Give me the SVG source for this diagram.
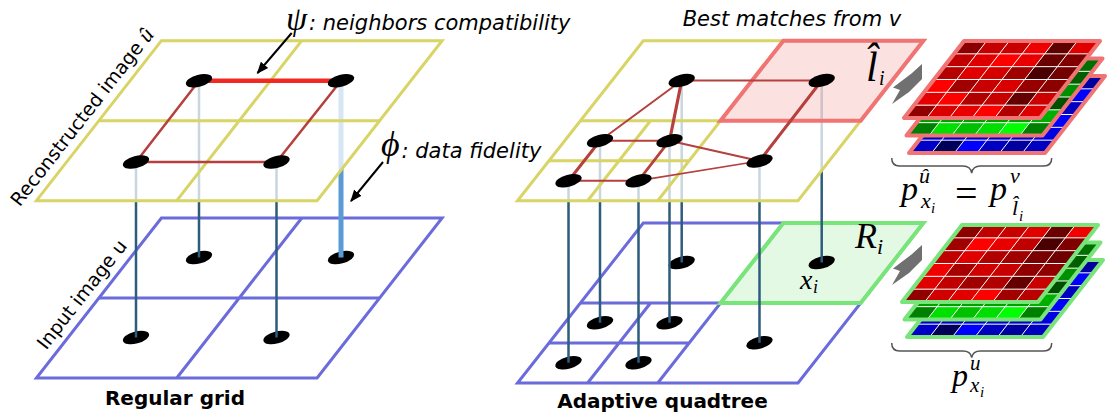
<svg xmlns="http://www.w3.org/2000/svg" width="1107" height="419" viewBox="0 0 1107 419">
<defs>
<style>
.yel{fill:#fff;fill-opacity:.75;stroke:#d8d466;stroke-width:3}
.yl{fill:none;stroke:#d8d466;stroke-width:3}
.blp{fill:#fff;stroke:#6b6bdc;stroke-width:3}
.bl{fill:none;stroke:#6b6bdc;stroke-width:3}
.pink{fill:#ef6b6b;fill-opacity:.2;stroke:#f07474;stroke-width:4}
.grn{fill:#77e077;fill-opacity:.2;stroke:#78e47a;stroke-width:4}
.nd{fill:#000}
.vl{stroke:#2e5c7e;stroke-width:2.5;fill:none}
.ed{stroke:#b5403d;fill:none;stroke-linecap:round}
.lbl{font-family:"DejaVu Sans",sans-serif;font-size:19px;fill:#000}
.it{font-family:"DejaVu Sans",sans-serif;font-style:italic;font-size:21px;fill:#000}
.ttl{font-family:"DejaVu Sans",sans-serif;font-weight:bold;font-size:20px;text-anchor:middle;fill:#000}
.m{font-family:"Liberation Serif","DejaVu Serif",serif;font-style:italic;fill:#000}
.mr{font-family:"Liberation Serif","DejaVu Serif",serif;fill:#000}
.gl{stroke:#fff;stroke-width:1;fill:none;vector-effect:non-scaling-stroke}
.bp{fill:none;stroke:#f07474;stroke-width:4;vector-effect:non-scaling-stroke;stroke-linejoin:round}
.bg{fill:none;stroke:#78e47a;stroke-width:4;vector-effect:non-scaling-stroke;stroke-linejoin:round}
.brace{fill:none;stroke:#555;stroke-width:1.5}
.garr{fill:#707070}
.arr{stroke:#000;stroke-width:2;fill:none;marker-end:url(#ah)}
</style>
<marker id="ah" viewBox="0 0 10 10" refX="9" refY="5" markerWidth="6" markerHeight="6" orient="auto"><path d="M0,1 L10,5 L0,9 z" fill="#000"/></marker>
<ellipse id="el" cx="0" cy="0" rx="13.5" ry="6" transform="rotate(-15)"/>
<polygon id="gar" points="30,0 30,15 17,28 0,40 8,26 1,23.5 19.5,9.5"/>
<path id="gridl" class="gl" d="M1 0V6M2 0V6M3 0V6M4 0V6M5 0V6M0 1H6M0 2H6M0 3H6M0 4H6M0 5H6"/>
<g id="redA">
<rect x="0" y="0" width="1.02" height="1.02" fill="#8a0000"/><rect x="1" y="0" width="1.02" height="1.02" fill="#c40000"/><rect x="2" y="0" width="1.02" height="1.02" fill="#c80000"/><rect x="3" y="0" width="1.02" height="1.02" fill="#ee0000"/><rect x="4" y="0" width="1.02" height="1.02" fill="#600000"/><rect x="5" y="0" width="1" height="1.02" fill="#e00000"/>
<rect x="0" y="1" width="1.02" height="1.02" fill="#c00000"/><rect x="1" y="1" width="1.02" height="1.02" fill="#de0000"/><rect x="2" y="1" width="1.02" height="1.02" fill="#ff0000"/><rect x="3" y="1" width="1.02" height="1.02" fill="#e80000"/><rect x="4" y="1" width="1.02" height="1.02" fill="#6a0000"/><rect x="5" y="1" width="1" height="1.02" fill="#800000"/>
<rect x="0" y="2" width="1.02" height="1.02" fill="#b40000"/><rect x="1" y="2" width="1.02" height="1.02" fill="#e00000"/><rect x="2" y="2" width="1.02" height="1.02" fill="#d40000"/><rect x="3" y="2" width="1.02" height="1.02" fill="#a00000"/><rect x="4" y="2" width="1.02" height="1.02" fill="#4a0000"/><rect x="5" y="2" width="1" height="1.02" fill="#740000"/>
<rect x="0" y="3" width="1.02" height="1.02" fill="#ff0000"/><rect x="1" y="3" width="1.02" height="1.02" fill="#a00000"/><rect x="2" y="3" width="1.02" height="1.02" fill="#c80000"/><rect x="3" y="3" width="1.02" height="1.02" fill="#d80000"/><rect x="4" y="3" width="1.02" height="1.02" fill="#960000"/><rect x="5" y="3" width="1" height="1.02" fill="#8c0000"/>
<rect x="0" y="4" width="1.02" height="1.02" fill="#e40000"/><rect x="1" y="4" width="1.02" height="1.02" fill="#ff0000"/><rect x="2" y="4" width="1.02" height="1.02" fill="#b00000"/><rect x="3" y="4" width="1.02" height="1.02" fill="#c80000"/><rect x="4" y="4" width="1.02" height="1.02" fill="#640000"/><rect x="5" y="4" width="1" height="1.02" fill="#cc0000"/>
<rect x="0" y="5" width="1.02" height="1" fill="#900000"/><rect x="1" y="5" width="1.02" height="1" fill="#d80000"/><rect x="2" y="5" width="1.02" height="1" fill="#e80000"/><rect x="3" y="5" width="1.02" height="1" fill="#ff0000"/><rect x="4" y="5" width="1.02" height="1" fill="#b00000"/><rect x="5" y="5" width="1" height="1" fill="#dd0000"/>
</g>
<g id="redB">
<rect x="0" y="0" width="1.02" height="1.02" fill="#8c0000"/><rect x="1" y="0" width="1.02" height="1.02" fill="#c00000"/><rect x="2" y="0" width="1.02" height="1.02" fill="#c80000"/><rect x="3" y="0" width="1.02" height="1.02" fill="#e00000"/><rect x="4" y="0" width="1.02" height="1.02" fill="#6a0000"/><rect x="5" y="0" width="1" height="1.02" fill="#f00000"/>
<rect x="0" y="1" width="1.02" height="1.02" fill="#a00000"/><rect x="1" y="1" width="1.02" height="1.02" fill="#ff0000"/><rect x="2" y="1" width="1.02" height="1.02" fill="#e80000"/><rect x="3" y="1" width="1.02" height="1.02" fill="#c00000"/><rect x="4" y="1" width="1.02" height="1.02" fill="#4a0000"/><rect x="5" y="1" width="1" height="1.02" fill="#800000"/>
<rect x="0" y="2" width="1.02" height="1.02" fill="#c00000"/><rect x="1" y="2" width="1.02" height="1.02" fill="#e00000"/><rect x="2" y="2" width="1.02" height="1.02" fill="#b00000"/><rect x="3" y="2" width="1.02" height="1.02" fill="#a00000"/><rect x="4" y="2" width="1.02" height="1.02" fill="#7a0000"/><rect x="5" y="2" width="1" height="1.02" fill="#700000"/>
<rect x="0" y="3" width="1.02" height="1.02" fill="#f00000"/><rect x="1" y="3" width="1.02" height="1.02" fill="#a80000"/><rect x="2" y="3" width="1.02" height="1.02" fill="#d00000"/><rect x="3" y="3" width="1.02" height="1.02" fill="#c80000"/><rect x="4" y="3" width="1.02" height="1.02" fill="#900000"/><rect x="5" y="3" width="1" height="1.02" fill="#900000"/>
<rect x="0" y="4" width="1.02" height="1.02" fill="#e00000"/><rect x="1" y="4" width="1.02" height="1.02" fill="#c00000"/><rect x="2" y="4" width="1.02" height="1.02" fill="#a00000"/><rect x="3" y="4" width="1.02" height="1.02" fill="#b00000"/><rect x="4" y="4" width="1.02" height="1.02" fill="#640000"/><rect x="5" y="4" width="1" height="1.02" fill="#c80000"/>
<rect x="0" y="5" width="1.02" height="1" fill="#900000"/><rect x="1" y="5" width="1.02" height="1" fill="#d00000"/><rect x="2" y="5" width="1.02" height="1" fill="#e00000"/><rect x="3" y="5" width="1.02" height="1" fill="#ff0000"/><rect x="4" y="5" width="1.02" height="1" fill="#a00000"/><rect x="5" y="5" width="1" height="1" fill="#b80000"/>
</g>
<g id="greenL">
<rect x="0" y="0" width="6" height="6" fill="#00a000"/>
<rect x="5" y="0" width="1" height="1.02" fill="#007000"/><rect x="5" y="1" width="1" height="1.02" fill="#006000"/><rect x="5" y="2" width="1" height="1.02" fill="#009000"/><rect x="5" y="3" width="1" height="1.02" fill="#005000"/><rect x="5" y="4" width="1" height="1.02" fill="#00b000"/>
<rect x="0" y="5" width="1.02" height="1" fill="#008000"/><rect x="1" y="5" width="1.02" height="1" fill="#00e000"/><rect x="2" y="5" width="1.02" height="1" fill="#00c000"/><rect x="3" y="5" width="1.02" height="1" fill="#00dd00"/><rect x="4" y="5" width="1.02" height="1" fill="#00ff00"/><rect x="5" y="5" width="1" height="1" fill="#008000"/>
</g>
<g id="blueL">
<rect x="0" y="0" width="6" height="6" fill="#0000c0"/>
<rect x="5" y="0" width="1" height="1.02" fill="#0000a0"/><rect x="5" y="1" width="1" height="1.02" fill="#0000ff"/><rect x="5" y="2" width="1" height="1.02" fill="#0000c0"/><rect x="5" y="3" width="1" height="1.02" fill="#0000ff"/><rect x="5" y="4" width="1" height="1.02" fill="#0000e0"/>
<rect x="0" y="5" width="1.02" height="1" fill="#0000c8"/><rect x="1" y="5" width="1.02" height="1" fill="#000058"/><rect x="2" y="5" width="1.02" height="1" fill="#0000ff"/><rect x="3" y="5" width="1.02" height="1" fill="#0000c0"/><rect x="4" y="5" width="1.02" height="1" fill="#0000a0"/><rect x="5" y="5" width="1" height="1" fill="#0000c0"/>
</g>
</defs>

<!-- LEFT: input plane -->
<g id="left-input-plane">
<polygon class="blp" points="161.4,218 442.1,218 317.1,378 36.4,378"/>
<path class="bl" d="M98.9 298H379.6M301.75 218L176.75 378"/>
</g>
<g id="left-input-nodes">
<use href="#el" class="nd" x="199" y="257.5"/>
<use href="#el" class="nd" x="341" y="257.5"/>
<use href="#el" class="nd" x="136" y="337.5"/>
<use href="#el" class="nd" x="276.5" y="337.5"/>
</g>

<!-- RIGHT: input plane -->
<g id="right-input-plane">
<polygon class="blp" points="643.3,223 923.4,223 798,383 517.5,383"/>
<path class="bl" d="M580.4 303H720.5M783.35 223L657.75 383M549 343H689.2M650.5 303L587.6 383"/>
<polygon id="region-Ri" class="grn" points="783.35,223 923.4,223 860.7,303 720.5,303"/>
</g>
<g id="right-input-nodes">
<use href="#el" class="nd" x="681.7" y="262.5"/>
<use href="#el" class="nd" x="821.7" y="262.5"/>
<use href="#el" class="nd" x="600" y="322.7"/>
<use href="#el" class="nd" x="669.5" y="322.7"/>
<use href="#el" class="nd" x="568.5" y="362.7"/>
<use href="#el" class="nd" x="638.5" y="362.7"/>
<use href="#el" class="nd" x="759.5" y="342.7"/>
</g>

<!-- vertical connectors (data fidelity) -->
<g id="connectors-vertical">
<path class="vl" d="M136 162V337.5M199 80.7V257.5M276.5 162V337.5"/>
<path d="M341 80.7V257.5" stroke="#5b9bd5" stroke-width="5" fill="none"/>
<path class="vl" d="M681.7 80.5V262.5M821.7 80.5V262.5M600 140.7V322.7M669.5 140.7V322.7M568.5 180.7V362.7M638.5 180.7V362.7M759.5 161V342.7"/>
</g>

<!-- LEFT: reconstructed plane -->
<g id="left-recon-plane">
<polygon class="yel" points="161.4,40.7 442.1,40.7 317.1,200.7 36.4,200.7"/>
<path class="yl" d="M98.9 120.7H379.6M301.75 40.7L176.75 200.7"/>
</g>

<!-- RIGHT: reconstructed plane -->
<g id="right-recon-plane">
<polygon class="yel" points="643.3,40.7 923.4,40.7 798,200.7 517.5,200.7"/>
<path class="yl" d="M580.4 120.7H720.5M783.35 40.7L657.75 200.7M549 160.7H689.2M650.5 120.7L587.6 200.7"/>
<polygon id="region-li" class="pink" points="783.35,40.7 923.4,40.7 860.7,120.7 720.5,120.7"/>
</g>

<!-- neighbor connectors -->
<g id="connectors-edges">
<path d="M199 80.7H341" stroke="#ee2a22" stroke-width="4.5" fill="none"/>
<path class="ed" stroke-width="2.5" d="M199 80.7L136 162L276.5 162L341 80.7"/>
<path class="ed" stroke-width="1.8" d="M681.7 80.5H821.7"/>
<path class="ed" stroke-width="2" d="M681.7 80.5L600 140.7"/>
<path class="ed" stroke-width="3.2" d="M681.7 80.5L669.5 140.7"/>
<path class="ed" stroke-width="2" d="M600 140.7H669.5"/>
<path class="ed" stroke-width="3" d="M600 140.7L568.5 180.7"/>
<path class="ed" stroke-width="2.7" d="M669.5 140.7L638.5 180.7"/>
<path class="ed" stroke-width="2" d="M568.5 180.7H638.5"/>
<path class="ed" stroke-width="2" d="M669.5 140.7L759.5 161"/>
<path class="ed" stroke-width="1.7" d="M638.5 180.7L759.5 161"/>
<path class="ed" stroke-width="3" d="M759.5 161L821.7 80.5"/>
</g>

<g id="left-recon-nodes">
<use href="#el" class="nd" x="199" y="80.7"/>
<use href="#el" class="nd" x="341" y="80.7"/>
<use href="#el" class="nd" x="136" y="162"/>
<use href="#el" class="nd" x="276.5" y="162"/>
</g>
<g id="right-recon-nodes">
<use href="#el" class="nd" x="681.7" y="80.5"/>
<use href="#el" class="nd" x="821.7" y="80.5"/>
<use href="#el" class="nd" x="600" y="140.7"/>
<use href="#el" class="nd" x="669.5" y="140.7"/>
<use href="#el" class="nd" x="568.5" y="180.7"/>
<use href="#el" class="nd" x="638.5" y="180.7"/>
<use href="#el" class="nd" x="759.5" y="161"/>
</g>

<!-- labels -->
<g id="labels">
<text class="lbl" text-anchor="middle" transform="translate(87.2,121.1) rotate(-52)">Reconstructed image <tspan class="m" font-size="22">û</tspan></text>
<text class="lbl" text-anchor="middle" transform="translate(87.1,298.5) rotate(-52)">Input image u</text>
<text class="m" x="286" y="30" font-size="34">ψ</text>
<text class="it" x="309" y="30">: neighbors compatibility</text>
<path class="arr" d="M291.7 33L257.5 73"/>
<text class="m" x="381" y="156" font-size="36">ϕ</text>
<text class="it" x="401.5" y="158">: data fidelity</text>
<path class="arr" d="M383 162L351 201"/>
<text class="it" x="682.7" y="26">Best matches from v</text>
<text class="ttl" x="175" y="405">Regular grid</text>
<text class="ttl" x="662.5" y="408">Adaptive quadtree</text>
<text class="m" x="866" y="81" font-size="42" fill="#f08080">l&#770;</text>
<text class="m" x="879" y="85" font-size="20" fill="#f08080">i</text>
<text class="m" x="855" y="248" font-size="36" fill="#80e080">R</text>
<text class="m" x="877" y="254" font-size="22" fill="#80e080">i</text>
<text class="m" x="800" y="288.5" font-size="28">x</text>
<text class="m" x="813" y="293" font-size="18">i</text>
</g>

<!-- top patch stack -->
<g id="stack-top">
<g transform="matrix(22.667,0,-10,12.833,969,76)"><use href="#blueL"/><use href="#gridl"/><rect class="bp" x="0" y="0" width="6" height="6"/></g>
<g transform="matrix(22.667,0,-10,12.833,966.5,58.5)"><use href="#greenL"/><use href="#gridl"/><rect class="bp" x="0" y="0" width="6" height="6"/></g>
<g transform="matrix(22.667,0,-10,12.833,964,41)"><use href="#redA"/><use href="#gridl"/><rect class="bp" x="0" y="0" width="6" height="6"/></g>
</g>
<g id="stack-bottom">
<g transform="matrix(22.667,0,-10,12.833,967,260)"><use href="#blueL"/><use href="#gridl"/><rect class="bg" x="0" y="0" width="6" height="6"/></g>
<g transform="matrix(22.667,0,-10,12.833,964.5,242.5)"><use href="#greenL"/><use href="#gridl"/><rect class="bg" x="0" y="0" width="6" height="6"/></g>
<g transform="matrix(22.667,0,-10,12.833,962,225)"><use href="#redB"/><use href="#gridl"/><rect class="bg" x="0" y="0" width="6" height="6"/></g>
</g>

<g id="gray-arrows">
<use href="#gar" class="garr" x="892" y="64"/>
<use href="#gar" class="garr" x="892" y="245"/>
</g>

<g id="braces">
<path class="brace" d="M891.7 158Q891.7 166 899.7 166L963 166Q970.5 166 971.7 173Q972.9 166 980.4 166L1043.7 166Q1051.7 166 1051.7 158"/>
<path class="brace" d="M891.7 343Q891.7 351 899.7 351L963 351Q970.5 351 971.7 357.5Q972.9 351 980.4 351L1043.7 351Q1051.7 351 1051.7 343"/>
</g>

<g id="formula-top">
<text class="m" x="901" y="200" font-size="34">p</text>
<text class="m" x="919" y="183" font-size="22">û</text>
<text class="m" x="921" y="208" font-size="22">x</text>
<text class="m" x="931" y="213" font-size="15">i</text>
<text class="mr" x="955" y="207" font-size="40">=</text>
<text class="m" x="990" y="200" font-size="34">p</text>
<text class="m" x="1010" y="183" font-size="22">v</text>
<text class="m" x="1012" y="215" font-size="22">l&#770;</text>
<text class="m" x="1019" y="221" font-size="15">i</text>
</g>
<g id="formula-bottom">
<text class="m" x="952" y="386" font-size="32">p</text>
<text class="m" x="970" y="370" font-size="21">u</text>
<text class="m" x="970" y="392" font-size="21">x</text>
<text class="m" x="980" y="397" font-size="15">i</text>
</g>
</svg>
